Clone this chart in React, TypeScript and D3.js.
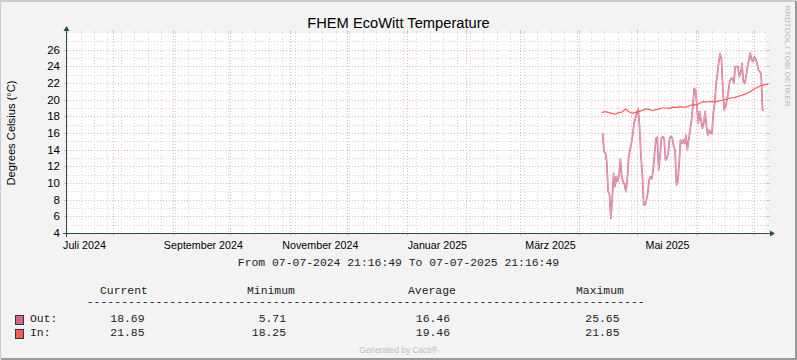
import React from "react";
import * as d3 from "d3";

const WIDTH = 797;
const HEIGHT = 360;

const rangeStart = new Date("2024-07-07T21:16:49");
const rangeEnd = new Date("2025-07-07T21:16:49");

const monthNames = [
  "Januar", "Februar", "März", "April", "Mai", "Juni",
  "Juli", "August", "September", "Oktober", "November", "Dezember",
];

const yMin = 4;
const yMax = 28;

// Outside temperature
const outStart = new Date("2025-04-13T04:30:00");
const outStepHours = 17.1;
const outValues = [
  15.96, 13.8, 13.6, 12.56, 8.96, 8.7, 5.76, 8.0, 11.16, 9.56,
  10.76, 10.2, 10.9, 12.84, 10.7, 10.16, 9.8, 8.96, 10.36, 12.96,
  13.96, 14.76, 15.76, 17.16, 17.76, 18.36, 18.96, 16.76, 13.36, 11.16,
  7.36, 7.36, 7.96, 8.76, 10.36, 10.76, 10.5, 11.56, 13.56, 15.36,
  15.5, 11.56, 13.16, 15.36, 15.56, 15.36, 12.76, 12.96, 13.56, 15.36,
  15.6, 15.36, 14.36, 13.96, 9.76, 10.16, 12.36, 15.16, 14.76, 15.16,
  14.76, 15.76, 13.96, 15.16, 16.36, 17.56, 19.16, 21.36, 21.16, 19.16,
  17.16, 18.56, 17.56, 16.56, 17.2, 18.56, 16.76, 15.76, 16.36, 15.96,
  15.96, 18.36, 19.56, 21.76, 23.16, 24.56, 25.56, 24.76, 21.16, 18.76,
  19.16, 19.96, 20.96, 22.16, 22.56, 22.56, 21.96, 23.96, 23.96, 23.96,
  22.76, 23.2, 24.36, 22.16, 21.96, 22.8, 24.0, 24.76, 25.65, 24.76,
  24.6, 25.16, 24.9, 24.36, 23.56, 23.36, 23.16, 18.76, 18.69,
];

// Inside temperature
const inStart = new Date("2025-04-12T16:00:00");
const inStepHours = 42.5;
const inValues = [
  18.44, 18.56, 18.48, 18.36, 18.25, 18.44, 18.52, 18.9, 18.56, 18.36,
  18.48, 18.6, 18.72, 18.9, 18.84, 18.7, 18.8, 18.9, 19.0, 19.0,
  18.96, 19.1, 19.08, 19.16, 19.1, 19.12, 19.3, 19.4, 19.36, 19.6,
  19.76, 19.72, 19.76, 19.76, 19.8, 19.9, 19.96, 20.1, 20.2, 20.24,
  20.36, 20.5, 20.64, 20.8, 21.0, 21.3, 21.5, 21.7, 21.8, 21.85,
];

const legendHeaders = ["Current", "Minimum", "Average", "Maximum"];
const legendNames = ["Out:", "In:"];
const outStats = ["18.69", "5.71", "16.46", "25.65"];
const inStats = ["21.85", "18.25", "19.46", "21.85"];

const OUT_COLOR = "#D3658F";
const IN_COLOR = "#FF5A55";
const AXIS_COLOR = "#2C4D43";
const GRID_COLOR = "#D8D8D8";
const MGRID_COLOR = "#F4B4B4";
const SANS = "'Liberation Sans', Arial, sans-serif";
const MONO = "'Liberation Mono', monospace";

export default function App() {
  const x = d3.scaleTime().domain([rangeStart, rangeEnd]).range([67, 767]);
  const y = d3.scaleLinear().domain([yMin, yMax]).range([233, 33]);

  const weekTicks = d3.timeMonday.range(rangeStart, rangeEnd);
  const monthTicks = d3.timeMonth.range(rangeStart, rangeEnd);
  // labels sit in the middle of every second month
  const labelMonths = d3.timeMonth
    .every(2)!
    .range(d3.timeMonth.floor(rangeStart), rangeEnd)
    .filter((m) => d3.timeDay.offset(m, 16) < rangeEnd);
  const yTicks = y.ticks(yMax - yMin).filter((v) => v < yMax);

  const timeAt = (start: Date, stepHours: number, i: number) =>
    new Date(+start + i * stepHours * 3600 * 1000);

  const outLine = d3
    .line<number>()
    .x((_, i) => x(timeAt(outStart, outStepHours, i)))
    .y((d) => y(d));
  const inLine = d3
    .line<number>()
    .x((_, i) => x(timeAt(inStart, inStepHours, i)))
    .y((d) => y(d));

  const [x0, x1] = x.range();
  const [y0, y1] = y.range();

  const headerX = [100, 247, 408, 576];
  const valueX = [144.5, 286, 450, 619.5];
  const rows = [
    { name: legendNames[0], color: OUT_COLOR, stats: outStats, base: 322 },
    { name: legendNames[1], color: IN_COLOR, stats: inStats, base: 336 },
  ];

  return (
    <svg
      width={WIDTH}
      height={HEIGHT}
      viewBox={`0 0 ${WIDTH} ${HEIGHT}`}
      style={{ position: "absolute", left: 0, top: 0 }}
    >
      <rect width={WIDTH} height={HEIGHT} fill="#F3F3F3" />
      <path d={`M0,${HEIGHT - 1} V1 H${WIDTH - 1}`} stroke="#CBCBCB" strokeWidth={2} fill="none" />
      <path d={`M1,${HEIGHT - 1} H${WIDTH - 1} V1`} stroke="#999999" strokeWidth={2} fill="none" />

      <rect x={x0} y={y1} width={x1 - x0} height={y0 - y1} fill="#FFFFFF" />

      {/* minor grid */}
      <g stroke={GRID_COLOR} strokeWidth={1}>
        {yTicks
          .filter((v) => v % 2 !== 0)
          .map((v) => (
            <g key={`ym${v}`}>
              <line x1={x0} x2={x1} y1={Math.round(y(v)) + 0.5} y2={Math.round(y(v)) + 0.5} strokeDasharray="1,2" />
              <line x1={x0 - 2} x2={x0} y1={Math.round(y(v)) + 0.5} y2={Math.round(y(v)) + 0.5} />
              <line x1={x1} x2={x1 + 2} y1={Math.round(y(v)) + 0.5} y2={Math.round(y(v)) + 0.5} />
            </g>
          ))}
        {weekTicks.map((d) => {
          const px = Math.round(x(d)) + 0.5;
          return (
            <g key={`xm${+d}`}>
              <line x1={px} x2={px} y1={y1} y2={y0} strokeDasharray="1,2" />
              <line x1={px} x2={px} y1={y0} y2={y0 + 2} />
              <line x1={px} x2={px} y1={y1 - 2} y2={y1} />
            </g>
          );
        })}
      </g>

      {/* major grid */}
      <g stroke={MGRID_COLOR} strokeWidth={1}>
        {yTicks
          .filter((v) => v % 2 === 0 && v > yMin)
          .map((v) => (
            <g key={`yM${v}`}>
              <line x1={x0} x2={x1} y1={Math.round(y(v)) + 0.5} y2={Math.round(y(v)) + 0.5} strokeDasharray="1,2" />
              <line x1={x0 - 3} x2={x0} y1={Math.round(y(v)) + 0.5} y2={Math.round(y(v)) + 0.5} />
              <line x1={x1} x2={x1 + 3} y1={Math.round(y(v)) + 0.5} y2={Math.round(y(v)) + 0.5} />
            </g>
          ))}
        {monthTicks.map((d) => {
          const px = Math.round(x(d)) + 0.5;
          return (
            <g key={`xM${+d}`}>
              <line x1={px} x2={px} y1={y1} y2={y0} strokeDasharray="1,2" />
              <line x1={px} x2={px} y1={y0} y2={y0 + 3} />
              <line x1={px} x2={px} y1={y1 - 3} y2={y1} />
            </g>
          );
        })}
      </g>

      {/* series */}
      <path d={outLine(outValues) ?? ""} fill="none" stroke={OUT_COLOR} strokeWidth={1.7} strokeLinejoin="round" />
      <path d={outLine(outValues) ?? ""} fill="none" stroke="#F0C4D4" strokeWidth={0.6} strokeLinejoin="round" />
      <path d={inLine(inValues) ?? ""} fill="none" stroke={IN_COLOR} strokeWidth={1.2} strokeLinejoin="round" />

      {/* axes */}
      <line x1={x0 - 4} x2={x1 + 3} y1={y0 + 0.5} y2={y0 + 0.5} stroke={AXIS_COLOR} strokeWidth={1} />
      <path d={`M${x1 + 3},${y0 - 2.5} L${x1 + 8},${y0 + 0.5} L${x1 + 3},${y0 + 3.5} Z`} fill={AXIS_COLOR} />
      <line x1={x0 - 0.5} x2={x0 - 0.5} y1={y0 + 4} y2={y1 - 2} stroke={AXIS_COLOR} strokeWidth={1} />
      <path d={`M${x0 - 3.5},${y1 - 2} L${x0 - 0.5},${y1 - 7} L${x0 + 2.5},${y1 - 2} Z`} fill={AXIS_COLOR} />

      {/* y labels */}
      <g fontFamily={SANS} fontSize={11.5} fill="#000" textAnchor="end">
        {yTicks
          .filter((v) => v % 2 === 0)
          .map((v) => (
            <text key={`yl${v}`} x={60} y={y(v) + 4}>
              {v}
            </text>
          ))}
      </g>

      {/* x labels */}
      <g fontFamily={SANS} fontSize={10.7} fill="#000" textAnchor="middle">
        {labelMonths.map((m) => (
          <text key={`xl${+m}`} x={x(d3.timeDay.offset(m, 16))} y={249}>
            {`${monthNames[m.getMonth()]} ${m.getFullYear()}`}
          </text>
        ))}
      </g>

      <text x={398.5} y={28} textAnchor="middle" fontFamily={SANS} fontSize={14.7} fill="#000">
        FHEM EcoWitt Temperature
      </text>
      <text
        transform={`translate(15,${(y0 + y1) / 2}) rotate(-90)`}
        textAnchor="middle"
        fontFamily={SANS}
        fontSize={11.2}
        fill="#000"
      >
        Degrees Celsius (°C)
      </text>
      <text
        transform="translate(785,56) rotate(90)"
        textAnchor="middle"
        fontFamily={SANS}
        fontSize={8}
        fill="#B8B8B8"
      >
        RRDTOOL / TOBI OETIKER
      </text>

      <text x={398.5} y={266} textAnchor="middle" fontFamily={MONO} fontSize={11.4} fill="#222">
        From 07-07-2024 21:16:49 To 07-07-2025 21:16:49
      </text>

      {/* legend */}
      <g fontFamily={MONO} fontSize={11.4} fill="#222">
        {legendHeaders.map((h, i) => (
          <text key={h} x={headerX[i]} y={294}>
            {h}
          </text>
        ))}
        <text x={86.7} y={305} textLength={558} lengthAdjust="spacing">
          {"-".repeat(81)}
        </text>
        {rows.map((r) => (
          <g key={r.name}>
            <rect x={15.5} y={r.base - 6.5} width={8} height={9} fill={r.color} stroke="#2C3B36" strokeWidth={1} />
            <text x={30} y={r.base}>
              {r.name}
            </text>
            {r.stats.map((s, i) => (
              <text key={i} x={valueX[i]} y={r.base} textAnchor="end">
                {s}
              </text>
            ))}
          </g>
        ))}
      </g>

      <text x={398.5} y={352.5} textAnchor="middle" fontFamily={SANS} fontSize={8.4} fill="#BCBCBC">
        Generated by Cacti®
      </text>
    </svg>
  );
}
